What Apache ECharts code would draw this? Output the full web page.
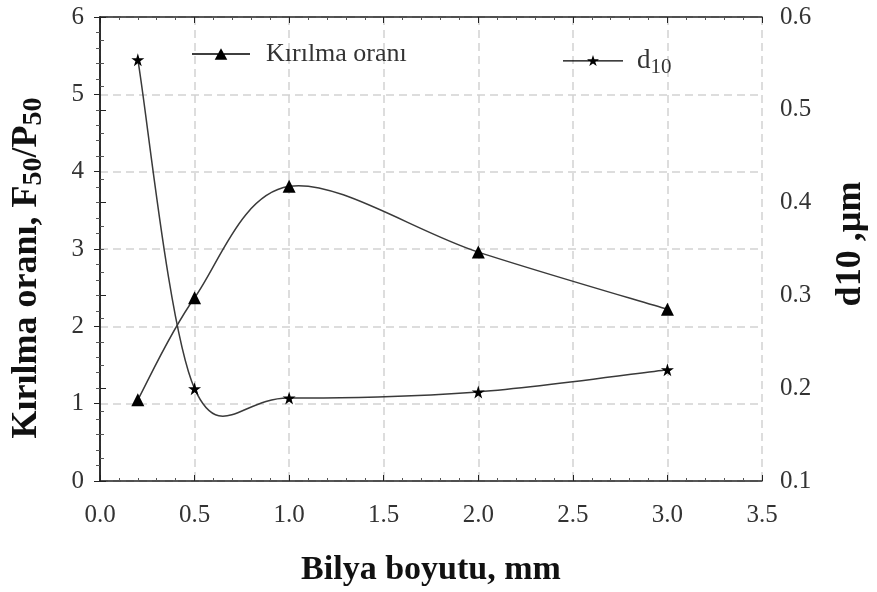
<!DOCTYPE html>
<html><head><meta charset="utf-8">
<script src="https://cdn.jsdelivr.net/npm/echarts@6/dist/echarts.min.js"></script>
<style>html,body{margin:0;padding:0;background:#fff}#c{width:877px;height:592px}</style>
</head><body><div id="c"></div>
<script>
const xValues = [0.2, 0.5, 1.0, 2.0, 3.0];
const kirilmaOrani = [1.05, 2.37, 3.81, 2.96, 2.22];
const d10 = [0.554, 0.1995, 0.1895, 0.196, 0.220];
const seriesNames = ['Kırılma oranı', 'd10'];

const FONT = '"Liberation Serif", "DejaVu Serif", serif';
const STAR = 'path://M50,0 L61,35 L98,35 L68,57 L79,91 L50,70 L21,91 L32,57 L2,35 L39,35 Z';
const ICON_TRI = 'path://M0,5.3 L60,5.3 L60,6.7 L0,6.7 Z M30,0 L36.5,12 L23.5,12 Z';
const ICON_STAR = 'path://M0,5.3 L60,5.3 L60,6.7 L0,6.7 Z M30,0 L31.4,4.3 L36,4.3 L32.3,7 L33.7,11.2 L30,8.6 L26.3,11.2 L27.7,7 L24,4.3 L28.6,4.3 Z';
const chart = echarts.init(document.getElementById('c'));
const tickLab = {fontFamily: FONT, fontSize: 25, color: '#333'};
const axisLine = {lineStyle: {color: '#222', width: 1.5}};
const LINE_COLOR = '#3a3a3a';

// Excel-like smoothed curve (Catmull-Rom style Bezier) through data points, in pixel space
function smoothCurve(values) {
  return function (params, api) {
    if (params.dataIndex !== 0) return null;
    const p = xValues.map((x, i) => api.coord([x, values[i]]));
    const n = p.length;
    const children = [];
    for (let i = 0; i < n - 1; i++) {
      const p0 = p[Math.max(i - 1, 0)], p1 = p[i], p2 = p[i + 1], p3 = p[Math.min(i + 2, n - 1)];
      children.push({
        type: 'bezierCurve',
        shape: {
          x1: p1[0], y1: p1[1], x2: p2[0], y2: p2[1],
          cpx1: p1[0] + (p2[0] - p0[0]) / 6, cpy1: p1[1] + (p2[1] - p0[1]) / 6,
          cpx2: p2[0] - (p3[0] - p1[0]) / 6, cpy2: p2[1] - (p3[1] - p1[1]) / 6
        },
        style: {fill: null, stroke: LINE_COLOR, lineWidth: 1.5}
      });
    }
    return {type: 'group', children: children};
  };
}

chart.setOption({
  animation: false,
  grid: {left: 100, right: 110, top: 17, bottom: 106},
  legend: [
    {data: [{name: seriesNames[0], icon: ICON_TRI}], left: 187, top: 36, itemWidth: 58, itemHeight: 12, itemGap: 10,
     textStyle: {fontFamily: FONT, fontSize: 26, color: '#333', padding: [0, 0, 0, 11]}},
    {data: [{name: seriesNames[1], icon: ICON_STAR}], left: 558, top: 42, itemWidth: 60, itemHeight: 12,
     formatter: function(){ return '{a|d}{s|10}'; },
     textStyle: {fontFamily: FONT, fontSize: 26, color: '#333', padding: [0, 0, 0, 9],
       rich: {a: {fontFamily: FONT, fontSize: 27, color: '#333'},
              s: {fontFamily: FONT, fontSize: 21, color: '#333', padding: [14, 0, 0, 0]}}}}
  ],
  xAxis: [{
    type: 'value', min: 0, max: 3.5, interval: 0.5,
    axisLine: axisLine,
    axisTick: {inside: true, length: 6, lineStyle: {color: '#222'}},
    minorTick: {show: true, splitNumber: 5, length: 3, lineStyle: {color: '#555'}},
    axisLabel: Object.assign({margin: 22, formatter: v => v.toFixed(1)}, tickLab),
    splitLine: {show: true, lineStyle: {color: '#d2d2d2', type: [8, 5], width: 1.5}},
    name: 'Bilya boyutu, mm', nameLocation: 'middle', nameGap: 72,
    nameTextStyle: {fontFamily: FONT, fontSize: 34, fontWeight: 'bold', color: '#111'}
  }, {
    type: 'value', min: 0, max: 3.5, interval: 0.5, position: 'top',
    axisLine: axisLine,
    axisTick: {inside: true, length: 6, lineStyle: {color: '#222'}},
    minorTick: {show: true, splitNumber: 5, length: 3, lineStyle: {color: '#555'}},
    axisLabel: {show: false}, splitLine: {show: false}
  }],
  yAxis: [{
    type: 'value', min: 0, max: 6, interval: 1,
    axisLine: axisLine,
    axisTick: {inside: false, length: 6, lineStyle: {color: '#222'}},
    minorTick: {show: true, splitNumber: 5, length: 4, lineStyle: {color: '#555'}},
    axisLabel: Object.assign({margin: 16}, tickLab),
    splitLine: {show: true, lineStyle: {color: '#d2d2d2', type: [8, 5], width: 1.5}},
    name: 'Kırılma oranı, F{s|50}/P{s|50}', nameLocation: 'middle', nameGap: 52, nameRotate: 90,
    nameTextStyle: {fontFamily: FONT, fontSize: 36, fontWeight: 'bold', color: '#111', padding: [0, 38, 0, 0],
      rich: {s: {fontFamily: FONT, fontSize: 28, fontWeight: 'bold', color: '#111', padding: [15, 0, 0, 0]}}}
  }, {
    type: 'value', min: 0.1, max: 0.6, interval: 0.1, position: 'right',
    axisLine: axisLine,
    axisTick: {inside: false, length: 6, lineStyle: {color: '#222'}},
    minorTick: {show: true, splitNumber: 4, length: 4, lineStyle: {color: '#555'}},
    axisLabel: Object.assign({margin: 18, formatter: v => v.toFixed(1)}, tickLab),
    splitLine: {show: false},
    name: 'd10 ,µm', nameLocation: 'middle', nameGap: 71, nameRotate: 90,
    nameTextStyle: {fontFamily: FONT, fontSize: 36, fontWeight: 'bold', color: '#111', padding: [0, 0, 0, 10]}
  }],
  series: [{
    name: 'curve1', type: 'custom', xAxisIndex: 0, yAxisIndex: 0,
    data: xValues.map((x, i) => [x, kirilmaOrani[i]]),
    renderItem: smoothCurve(kirilmaOrani), silent: true, z: 2
  }, {
    name: 'curve2', type: 'custom', xAxisIndex: 0, yAxisIndex: 1,
    data: xValues.map((x, i) => [x, d10[i]]),
    renderItem: smoothCurve(d10), silent: true, z: 2
  }, {
    name: seriesNames[0], type: 'line', xAxisIndex: 0, yAxisIndex: 0,
    data: xValues.map((x, i) => [x, kirilmaOrani[i]]),
    symbol: 'triangle', symbolSize: 13, z: 3,
    itemStyle: {color: '#000'}, lineStyle: {opacity: 0}
  }, {
    name: seriesNames[1], type: 'line', xAxisIndex: 0, yAxisIndex: 1,
    data: xValues.map((x, i) => [x, d10[i]]),
    symbol: STAR, symbolSize: 13, z: 3,
    itemStyle: {color: '#000'}, lineStyle: {opacity: 0}
  }]
});
</script></body></html>
